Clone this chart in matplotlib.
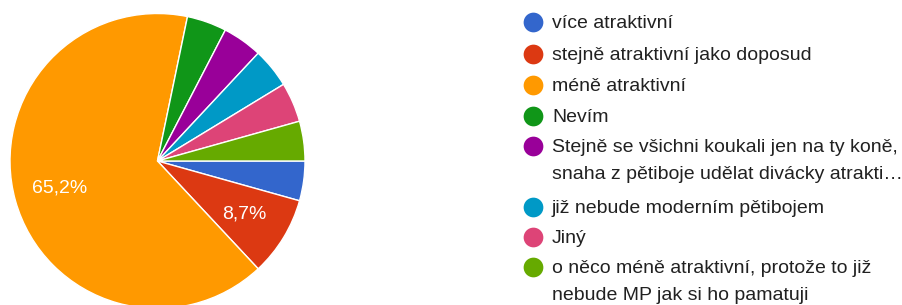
import matplotlib
matplotlib.use("Agg")
import matplotlib.pyplot as plt

plt.rcParams['font.family'] = ['Liberation Sans', 'DejaVu Sans']

categories = [
    "více atraktivní",
    "stejně atraktivní jako doposud",
    "méně atraktivní",
    "Nevím",
    "Stejně se všichni koukali jen na ty koně,\nsnaha z pětiboje udělat divácky atrakti…",
    "již nebude moderním pětibojem",
    "Jiný",
    "o něco méně atraktivní, protože to již\nnebude MP jak si ho pamatuji",
]
counts = [1, 2, 15, 1, 1, 1, 1, 1]
colors = ["#3366cc", "#dc3912", "#ff9900", "#109618", "#990099",
          "#0099c6", "#dd4477", "#66aa00"]

W, H = 903, 305
fig = plt.figure(figsize=(W / 100, H / 100), dpi=100)

# pie axes in pixel geometry
cx, cy, r = 157.5, 161.0, 147.5
ax = fig.add_axes([(cx - r) / W, (H - cy - r) / H, 2 * r / W, 2 * r / H])


def fmt(p):
    return (f"{p:.1f}%".replace('.', ',')) if p > 5 else ""


wedges, texts, autotexts = ax.pie(
    counts, colors=colors, startangle=0, counterclock=False,
    autopct=fmt, pctdistance=0.69,
    wedgeprops=dict(edgecolor="white", linewidth=1.0),
    textprops=dict(color="white", fontsize=14))
ax.set_xlim(-1, 1)
ax.set_ylim(-1, 1)
ax.set_aspect('equal')

# legend overlay in pixel coordinates
lax = fig.add_axes([0, 0, 1, 1])
lax.set_xlim(0, W)
lax.set_ylim(H, 0)
lax.axis('off')

row_y = [22, 54, 85, 116, 146, 207, 237, 267]
line_gap = 27
for lbl, col, y in zip(categories, colors, row_y):
    lax.plot([533], [y], marker='o', markersize=14.2, color=col,
             markeredgewidth=0, linestyle='none')
    for i, line in enumerate(lbl.split("\n")):
        lax.text(552, y + 6 + i * line_gap, line, fontsize=14,
                 color="#212121", va='baseline', ha='left')

fig.savefig("out.png", dpi=100)
